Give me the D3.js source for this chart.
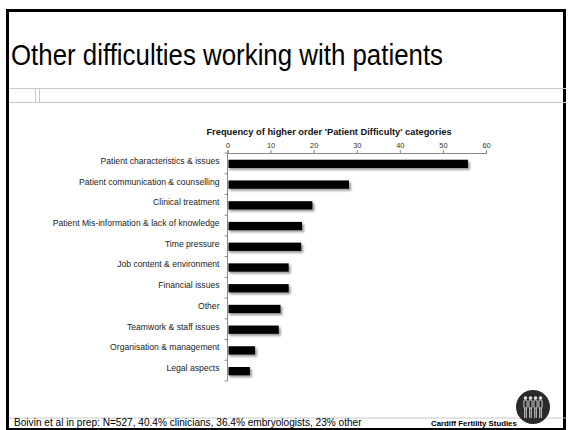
<!DOCTYPE html>
<html>
<head>
<meta charset="utf-8">
<script src="https://cdn.jsdelivr.net/npm/d3@7/dist/d3.min.js"></script>
<style>
  html, body { margin: 0; padding: 0; background: #fff; }
  svg { display: block; font-family: "Liberation Sans", Arial, sans-serif; }
</style>
</head>
<body>
<svg id="slide" width="568" height="430"></svg>
<script>
// Higher order "Patient Difficulty" categories and their frequencies
const categories = [
  "Patient characteristics & issues",
  "Patient communication & counselling",
  "Clinical treatment",
  "Patient Mis-information & lack of knowledge",
  "Time pressure",
  "Job content & environment",
  "Financial issues",
  "Other",
  "Teamwork & staff issues",
  "Organisation & management",
  "Legal aspects"
];
const frequencies = [55.8, 28.2, 19.7, 17.3, 17.1, 14.2, 14.2, 12.3, 11.9, 6.4, 5.2];
const tickValues = [0, 10, 20, 30, 40, 50, 60];

const svg = d3.select("#slide");

// Slide frame
svg.append("rect")
  .attr("x", 7.5).attr("y", 10.5).attr("width", 557).attr("height", 419)
  .attr("fill", "#fff").attr("stroke", "#000").attr("stroke-width", 3);

// Slide heading (condensed to the slide's title width)
svg.append("text")
  .attr("x", 11).attr("y", 65)
  .attr("font-size", 30).attr("fill", "#000")
  .attr("textLength", 432).attr("lengthAdjust", "spacingAndGlyphs")
  .text("Other difficulties working with patients");

// Thin grey table outline under the heading
const grey = "#c8c8c8";
svg.append("line").attr("x1", 9).attr("x2", 566).attr("y1", 88.5).attr("y2", 88.5).attr("stroke", grey);
svg.append("line").attr("x1", 9).attr("x2", 566).attr("y1", 102.5).attr("y2", 102.5).attr("stroke", grey);
svg.append("line").attr("x1", 35.5).attr("x2", 35.5).attr("y1", 88.5).attr("y2", 102.5).attr("stroke", grey);
svg.append("line").attr("x1", 39.5).attr("x2", 39.5).attr("y1", 88.5).attr("y2", 102.5).attr("stroke", grey);

// Chart
const x = d3.scaleLinear().domain([0, 60]).range([227.5, 486]);
const y = d3.scaleBand().domain(categories).range([153, 381]).paddingInner(0.6).paddingOuter(0.3);

const defs = svg.append("defs");
defs.append("filter").attr("id", "soft")
  .attr("x", "-10%").attr("y", "-50%").attr("width", "130%").attr("height", "200%")
  .append("feGaussianBlur").attr("stdDeviation", 0.9);

svg.append("text")
  .attr("x", 329).attr("y", 135)
  .attr("text-anchor", "middle")
  .attr("font-size", 9.3).attr("font-weight", "bold").attr("fill", "#111")
  .text("Frequency of higher order 'Patient Difficulty' categories");

// Top value axis
const xAxis = svg.append("g")
  .attr("transform", "translate(0,153)")
  .call(d3.axisTop(x).tickValues(tickValues).tickSize(3).tickPadding(2));
xAxis.select(".domain").attr("stroke", "#888");
xAxis.selectAll(".tick line").attr("stroke", "#888");
xAxis.selectAll(".tick text").attr("font-size", 7.4).attr("fill", "#333")
  .attr("font-family", "'Liberation Sans', Arial, sans-serif");

// Left category axis with ticks between categories
const yAxisG = svg.append("g").attr("transform", "translate(227.5,0)");
yAxisG.append("line")
  .attr("x1", 0).attr("x2", 0).attr("y1", 153).attr("y2", 381)
  .attr("stroke", "#888");
const bounds = d3.range(categories.length + 1).map(i => 153 + i * (381 - 153) / categories.length);
yAxisG.selectAll(".sep").data(bounds).join("line")
  .attr("class", "sep")
  .attr("x1", -3).attr("x2", 0)
  .attr("y1", d => d).attr("y2", d => d)
  .attr("stroke", "#888");

yAxisG.selectAll(".cat").data(categories).join("text")
  .attr("class", "cat")
  .attr("x", -8)
  .attr("y", d => y(d) + y.bandwidth() / 2)
  .attr("dy", "0.05em")
  .attr("text-anchor", "end")
  .attr("font-size", 8.6).attr("fill", "#222")
  .text(d => d);

// Bars with soft grey drop shadow
const rows = categories.map((c, i) => ({ c, v: frequencies[i] }));
svg.append("g").selectAll("rect").data(rows).join("rect")
  .attr("x", x(0) + 2)
  .attr("y", d => y(d.c) + 2.5)
  .attr("width", d => x(d.v) - x(0))
  .attr("height", y.bandwidth())
  .attr("fill", "#9a9a9a")
  .attr("filter", "url(#soft)");
svg.append("g").selectAll("rect").data(rows).join("rect")
  .attr("x", x(0) + 1)
  .attr("y", d => y(d.c) + 0.5)
  .attr("width", d => x(d.v) - x(0) - 1)
  .attr("height", y.bandwidth())
  .attr("fill", "#000");

// Footer
svg.append("line").attr("x1", 9).attr("x2", 566).attr("y1", 418).attr("y2", 418).attr("stroke", "#bbb").attr("stroke-width", 0.8);
svg.append("text")
  .attr("x", 14).attr("y", 426)
  .attr("font-size", 10.1).attr("fill", "#000")
  .text("Boivin et al in prep: N=527, 40.4% clinicians, 36.4% embryologists, 23% other");
svg.append("text")
  .attr("x", 431).attr("y", 426)
  .attr("font-size", 7.8).attr("font-weight", "bold").attr("fill", "#000")
  .text("Cardiff Fertility Studies");

// Logo: dark disc with four standing figures
const logo = svg.append("g").attr("transform", "translate(533,407)");
logo.append("circle").attr("r", 17).attr("fill", "#2a2a2a");
[-7.5, -2.5, 2.5, 7.5].forEach(dx => {
  const g = logo.append("g").attr("transform", `translate(${dx},0)`);
  g.append("circle").attr("cy", -9).attr("r", 1.8).attr("fill", "#ddd");
  g.append("rect").attr("x", -1.6).attr("y", -7).attr("width", 3.2).attr("height", 8).attr("rx", 1).attr("fill", "none").attr("stroke", "#ddd").attr("stroke-width", 0.9);
  g.append("line").attr("x1", -0.8).attr("x2", -0.8).attr("y1", 1).attr("y2", 11).attr("stroke", "#ddd").attr("stroke-width", 0.9);
  g.append("line").attr("x1", 0.8).attr("x2", 0.8).attr("y1", 1).attr("y2", 11).attr("stroke", "#ddd").attr("stroke-width", 0.9);
});
</script>
</body>
</html>
